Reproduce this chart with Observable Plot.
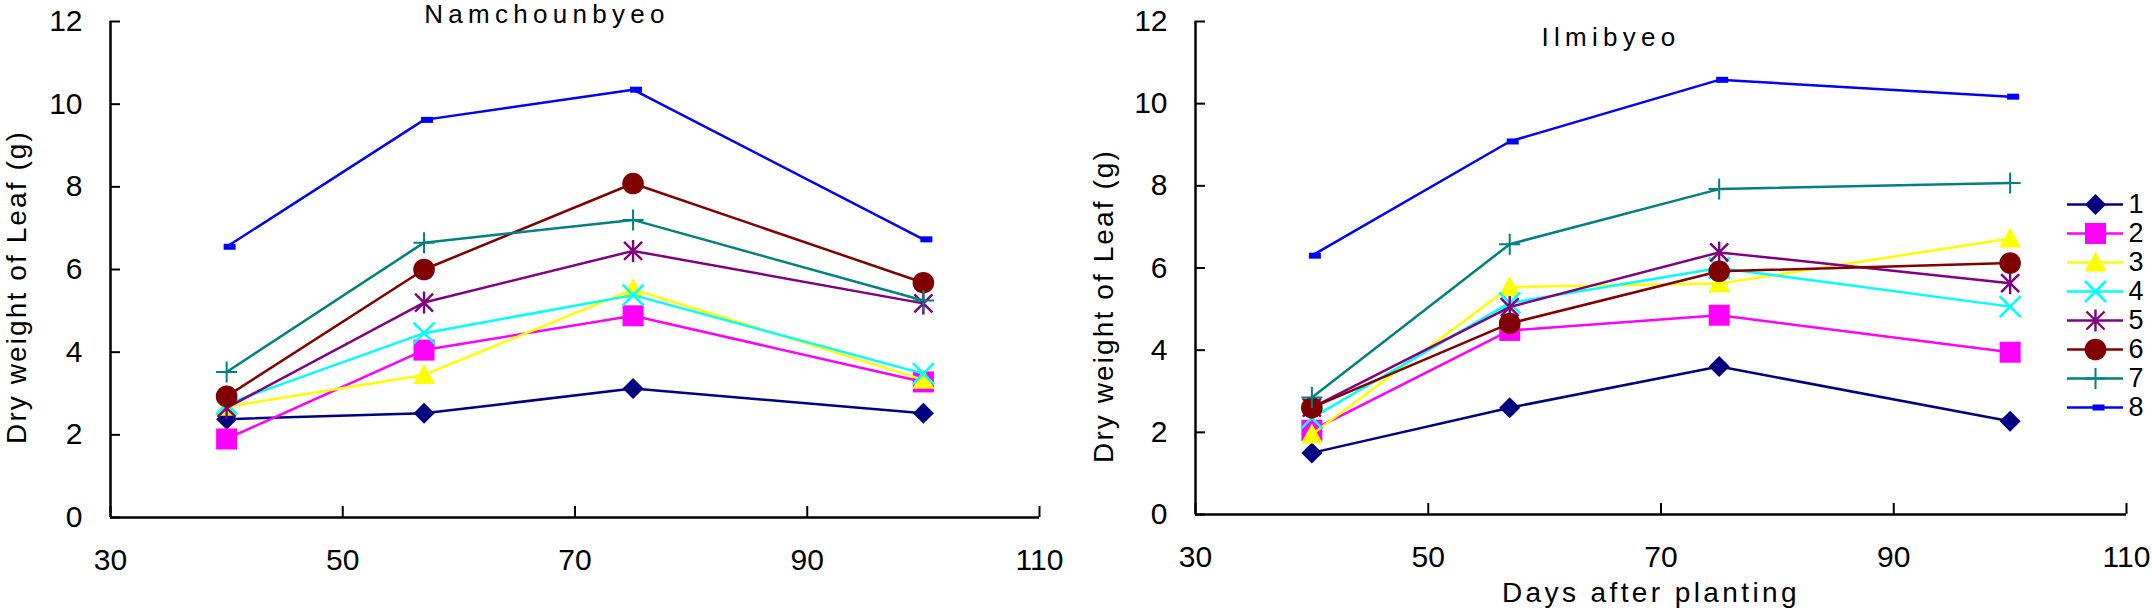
<!DOCTYPE html>
<html>
<head>
<meta charset="utf-8">
<script src="https://cdn.jsdelivr.net/npm/d3@7"></script>
<script src="https://cdn.jsdelivr.net/npm/@observablehq/plot@0.6"></script>
<style>
  html, body { margin: 0; padding: 0; background: #fff; }
  #chart { position: relative; width: 2152px; height: 610px; overflow: hidden; background: #fff;
           font-family: "Liberation Sans", Arial, sans-serif; color: #000; }
  .abs { position: absolute; white-space: nowrap; line-height: 1; }
  .title { font-size: 26px; letter-spacing: 5.3px; transform: translateX(-50%); }
  .ytitle { font-size: 28px; letter-spacing: 2.1px; transform: translate(-50%, -50%) rotate(-90deg); }
  .xtitle { font-size: 28px; letter-spacing: 3.4px; transform: translateX(-50%); }
</style>
</head>
<body>
<div id="chart"></div>
<script>
// ---- data ----
const days = [40, 57, 75, 100];
const seriesNames = ["1", "2", "3", "4", "5", "6", "7", "8"];
const seriesColors = ["#000080", "#FF00FF", "#FFFF00", "#00FFFF", "#800080", "#800000", "#008080", "#0000FF"];
const seriesMarkers = ["diamond", "square", "triangle", "times", "star", "circle", "plus", "dash"];
const namchounbyeo = [
  [2.38, 2.52, 3.12, 2.52],
  [1.90, 4.05, 4.88, 3.28],
  [2.68, 3.45, 5.52, 3.33],
  [2.75, 4.46, 5.38, 3.48],
  [2.65, 5.20, 6.45, 5.18],
  [2.93, 6.00, 8.08, 5.68],
  [3.52, 6.65, 7.20, 5.25],
  [6.55, 9.62, 10.35, 6.73]
];
const ilmibyeo = [
  [1.50, 2.60, 3.60, 2.27],
  [2.05, 4.48, 4.85, 3.95],
  [1.95, 5.54, 5.62, 6.72],
  [2.35, 5.15, 6.00, 5.06],
  [2.60, 5.05, 6.38, 5.63],
  [2.60, 4.65, 5.92, 6.12],
  [2.85, 6.58, 7.92, 8.07],
  [6.30, 9.08, 10.58, 10.17]
];
const xTicks = [30, 50, 70, 90, 110];
const yTicks = [0, 2, 4, 6, 8, 10, 12];
const xDomain = [30, 110];
const yDomain = [0, 12];

// ---- Excel-like marker symbols ----
const symbols = {
  diamond: {draw(c) { c.moveTo(0, -10.5); c.lineTo(10.5, 0); c.lineTo(0, 10.5); c.lineTo(-10.5, 0); c.closePath(); }},
  square: {draw(c) { c.moveTo(-10.5, -10.5); c.lineTo(10.5, -10.5); c.lineTo(10.5, 10.5); c.lineTo(-10.5, 10.5); c.closePath(); }},
  triangle: {draw(c) { c.moveTo(0, -11); c.lineTo(11, 9); c.lineTo(-11, 9); c.closePath(); }},
  times: {draw(c) { c.moveTo(-10.5, -10.5); c.lineTo(10.5, 10.5); c.moveTo(-10.5, 10.5); c.lineTo(10.5, -10.5); }},
  star: {draw(c) { c.moveTo(-9, -9); c.lineTo(9, 9); c.moveTo(-9, 9); c.lineTo(9, -9); c.moveTo(0, -11); c.lineTo(0, 11); }},
  circle: {draw(c) { c.moveTo(10.8, 0); c.arc(0, 0, 10.8, 0, 2 * Math.PI); c.closePath(); }},
  plus: {draw(c) { c.moveTo(-10.5, 0); c.lineTo(10.5, 0); c.moveTo(0, -10.5); c.lineTo(0, 10.5); }},
  dash: {draw(c) { c.moveTo(-3, -3); c.lineTo(9, -3); c.lineTo(9, 3); c.lineTo(-3, 3); c.closePath(); }}
};
const stroked = {times: 2.6, star: 2.4, plus: 2};

function markerOptions(i) {
  const m = seriesMarkers[i];
  if (stroked[m]) return {symbol: symbols[m], fill: "none", stroke: seriesColors[i], strokeWidth: stroked[m], r: 8};
  return {symbol: symbols[m], fill: seriesColors[i], stroke: "none", r: 8};
}

function panel(values, margins) {
  const marks = [];
  values.forEach((row, i) => {
    const pts = days.map((d, j) => ({day: d, w: row[j]}));
    marks.push(Plot.line(pts, {x: "day", y: "w", stroke: seriesColors[i], strokeWidth: 2.5}));
    marks.push(Plot.dot(pts, {x: "day", y: "w", ...markerOptions(i)}));
  });
  return Plot.plot({
    width: 1076,
    height: 610,
    ...margins,
    style: {fontFamily: '"Liberation Sans", Arial, sans-serif', fontSize: "30px", background: "transparent", color: "#000"},
    x: {domain: xDomain},
    y: {domain: yDomain},
    marks: [
      Plot.axisX({ticks: xTicks, tickSize: -11, tickPadding: 42, strokeWidth: 2, label: null, tickFormat: d => String(d)}),
      Plot.axisY({ticks: yTicks, tickSize: -10, tickPadding: 38, strokeWidth: 2, label: null, tickFormat: d => String(d)}),
      Plot.ruleX([xDomain[0]], {strokeWidth: 2.5}),
      Plot.ruleY([yDomain[0]], {strokeWidth: 2.5}),
      ...marks
    ]
  });
}

const chart = document.getElementById("chart");

const left = panel(namchounbyeo, {marginLeft: 110, marginRight: 37, marginTop: 21, marginBottom: 93});
left.style.position = "absolute"; left.style.left = "0px"; left.style.top = "0px";
chart.appendChild(left);

const right = panel(ilmibyeo, {marginLeft: 119, marginRight: 26, marginTop: 21, marginBottom: 96});
right.style.position = "absolute"; right.style.left = "1076px"; right.style.top = "0px";
chart.appendChild(right);

// ---- legend (drawn with Plot) ----
const legendMarks = [];
seriesNames.forEach((name, i) => {
  legendMarks.push(Plot.ruleY([name], {y: d => d, x1: 0, x2: 1, stroke: seriesColors[i], strokeWidth: 2.5}));
  legendMarks.push(Plot.dot([name], {x: () => 0.5, y: d => d, ...markerOptions(i)}));
});
legendMarks.push(Plot.text(seriesNames, {x: () => 1, y: d => d, text: d => d, dx: 5, textAnchor: "start", fontSize: 27, fill: "#000"}));
const legend = Plot.plot({
  width: 100, height: 270, margin: 0,
  style: {fontFamily: '"Liberation Sans", Arial, sans-serif', background: "transparent", overflow: "visible"},
  x: {domain: [0, 1], range: [15, 71], axis: null},
  y: {type: "point", domain: seriesNames, range: [19.3, 252.7], axis: null},
  marks: legendMarks
});
legend.style.position = "absolute"; legend.style.left = "2052px"; legend.style.top = "170px";
chart.appendChild(legend);

// ---- texts ----
function addText(cls, text, x, y) {
  const d = document.createElement("div");
  d.className = "abs " + cls;
  d.textContent = text;
  d.style.left = x + "px";
  d.style.top = y + "px";
  chart.appendChild(d);
}
addText("title", "Namchounbyeo", 547, 1);
addText("title", "Ilmibyeo", 1611, 24);
addText("ytitle", "Dry weight of Leaf (g)", 17, 287);
addText("ytitle", "Dry weight of Leaf (g)", 1104, 306);
addText("xtitle", "Days after planting", 1651, 579);
</script>
</body>
</html>
